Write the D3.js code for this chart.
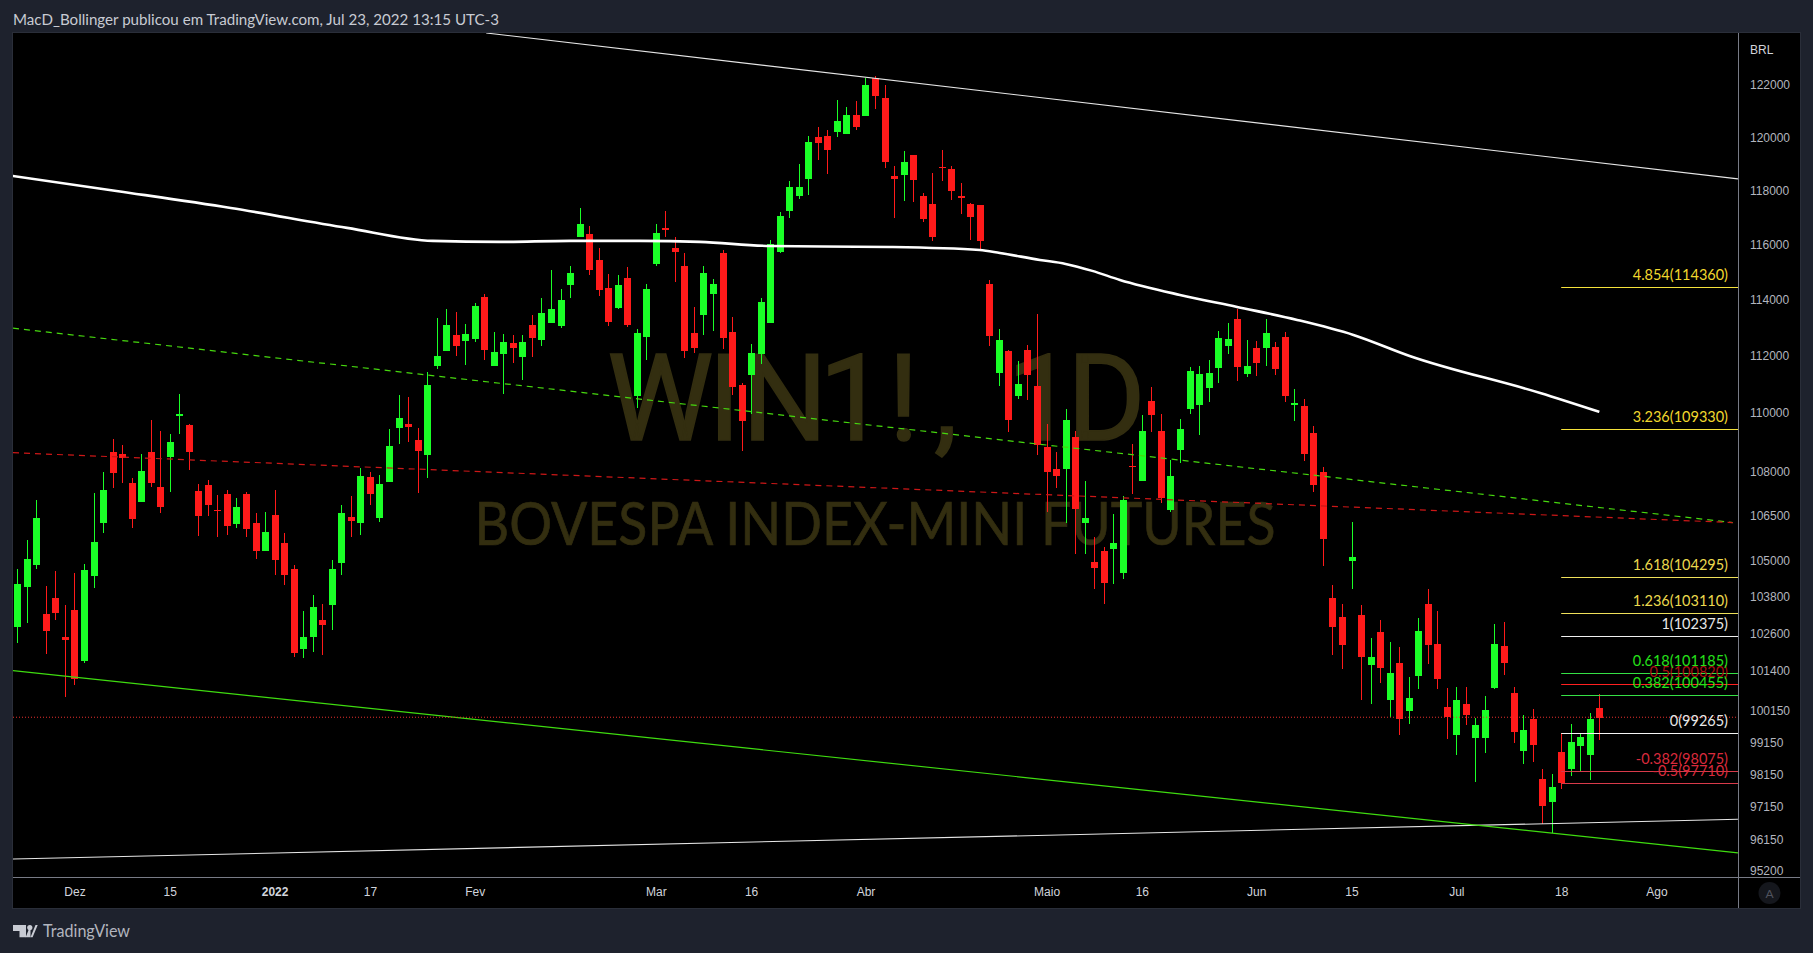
<!DOCTYPE html>
<html>
<head>
<meta charset="utf-8">
<title>WIN1!, 1D</title>
<script src="https://cdn.jsdelivr.net/npm/d3@7"></script>
<style>
    html, body { margin: 0; padding: 0; background: #1e222d; overflow: hidden; }
    svg { display: block; }
    text { font-family: "Lato", "Liberation Sans", sans-serif; }
    .axis text { font-family: "Liberation Sans", sans-serif; font-size: 12px; }
</style>
</head>
<body>
<svg id="chart" width="1813" height="953"></svg>
<script>
// daily candles, oldest first
const opens = [
    102825, 104130, 104855, 103245, 103765, 102500, 103375, 101725, 104490, 106255,
    108660, 108590, 107605, 106960, 108660, 107470, 108490, 109905, 109590, 107330,
    107535, 106690, 107230, 106220, 107230, 106255, 105315, 106525, 105585, 104725,
    102110, 102500, 103050, 103540, 104920, 106455, 106255, 107810, 106425, 107640,
    109490, 109625, 109075, 108555, 111650, 112180, 112750, 112535, 112605, 114105,
    111650, 112075, 112465, 111970, 113105, 112570, 113175, 113070, 114540, 116290,
    116400, 115450, 114435, 113710, 114795, 110595, 112680, 115305, 116620, 115885,
    115230, 112820, 113465, 114215, 115700, 112855, 110985, 111335, 112075, 113175,
    115740, 117245, 117800, 118440, 120020, 120055, 120210, 120130, 120855, 120815,
    122275, 121500, 118550, 118590, 119335, 117800, 117505, 118885, 118810, 117800,
    117505, 117470, 114580, 111405, 112180, 110595, 112215, 110950, 108830, 108080,
    108080, 109175, 106255, 104955, 105315, 105385, 104590, 108185, 107670, 110420,
    109385, 106690, 108725, 110145, 110285, 110880, 111580, 112355, 113320, 111370,
    112285, 112285, 112320, 112680, 110285, 110250, 109315, 107980, 103765, 103150,
    104985, 103215, 101595, 102660, 100480, 101660, 100135, 101245, 103570, 102270,
    100260, 99380, 100355, 99285, 99285, 100865, 102205, 100705, 98875, 99880,
    98010, 97295, 98845, 98320, 99035, 98750, 100230
]
const highs = [
    104720, 105685, 107025, 104165, 104655, 103540, 104590, 104890, 107265, 107980,
    109110, 108900, 107775, 108590, 109765, 109385, 109280, 110670, 109625, 107570,
    107705, 107195, 107365, 107095, 107300, 106590, 106625, 107365, 105920, 104855,
    103345, 103865, 103570, 105020, 106860, 107160, 108115, 107980, 107875, 109455,
    110630, 110560, 109490, 111440, 113355, 113675, 113570, 113140, 113890, 114215,
    112855, 112785, 112750, 112750, 113465, 114070, 115085, 114395, 115230, 117355,
    116695, 115885, 114940, 114905, 115195, 112965, 114580, 116770, 117245, 116290,
    115700, 113750, 115230, 114760, 115810, 113390, 111055, 112430, 114070, 116180,
    117210, 118365, 119000, 120055, 120400, 120285, 121425, 121160, 121385, 122275,
    122350, 122000, 118925, 119485, 119335, 117915, 118660, 119525, 118925, 118290,
    117540, 117470, 114725, 112965, 112215, 111830, 112395, 113500, 109625, 108660,
    110145, 109385, 107670, 105785, 105450, 106555, 107160, 108935, 109940, 110915,
    109975, 108385, 109800, 111615, 111650, 111865, 112890, 113175, 113675, 112570,
    112535, 113320, 112500, 112855, 110845, 110490, 109555, 108150, 104195, 103570,
    106290, 103540, 102465, 103050, 102335, 102175, 101215, 103115, 104065, 103345,
    100865, 100895, 100895, 99915, 100605, 102920, 102985, 100895, 100005, 100195,
    98320, 98165, 99440, 99725, 99410, 100070, 100670
]
const lows = [
    102305, 102955, 104725, 101950, 103050, 100575, 100960, 101660, 104095, 105920,
    107435, 107605, 106090, 106960, 107470, 106590, 107300, 109280, 108045, 105820,
    106490, 105785, 105855, 106090, 105785, 105055, 105315, 104525, 104195, 101855,
    101820, 102015, 101915, 102725, 104525, 105785, 105855, 106860, 106290, 107640,
    108935, 109005, 107265, 107775, 111545, 112180, 112005, 111685, 112500, 111865,
    111650, 110670, 111755, 111160, 111970, 112355, 113175, 113000, 114070, 116290,
    114905, 114145, 113070, 113675, 113035, 110180, 111865, 115230, 116290, 114650,
    111935, 112110, 112750, 112890, 112250, 110630, 108695, 109975, 111720, 113175,
    115700, 116990, 117690, 117840, 119150, 118625, 120020, 120130, 120285, 120815,
    121080, 118850, 116990, 117615, 117580, 116840, 116145, 118365, 117650, 117135,
    116180, 115810, 112355, 110950, 109350, 110490, 110455, 108555, 106625, 107435,
    106255, 105220, 105220, 104065, 103570, 104230, 104395, 107230, 107670, 109350,
    106925, 106625, 108285, 109975, 109245, 110390, 111055, 112075, 111125, 111265,
    111300, 111650, 111335, 110390, 109730, 108355, 107300, 104820, 101915, 101470,
    104065, 100480, 100355, 101020, 99945, 99380, 99725, 100830, 101630, 100830,
    99250, 98750, 99695, 97915, 98815, 100830, 101280, 99125, 98475, 98535,
    96625, 96350, 97700, 98100, 98255, 97980, 99220
]
const closes = [
    104230, 105055, 106425, 102695, 103280, 102400, 101150, 104690, 105620, 107365,
    107945, 108455, 106390, 108015, 107605, 106790, 109005, 109975, 108660, 106490,
    106860, 106655, 106155, 106790, 106055, 105315, 105955, 105020, 104525, 101980,
    102500, 103475, 102890, 104725, 106590, 106320, 107840, 107230, 107570, 108865,
    109835, 109525, 108695, 110985, 112005, 113105, 112355, 112785, 113785, 112215,
    112145, 112500, 112285, 112500, 112640, 113535, 113675, 114000, 114975, 116770,
    115085, 114360, 113215, 114540, 113105, 112820, 114395, 116435, 116550, 115740,
    112180, 112285, 114975, 114580, 112640, 110915, 109730, 112110, 113925, 116030,
    117065, 118140, 118140, 119830, 119790, 119525, 120625, 120855, 120400, 122000,
    121580, 119075, 118440, 119075, 118400, 116955, 116290, 118850, 117990, 117725,
    117025, 116145, 112715, 112570, 109765, 111020, 111335, 108900, 107980, 107840,
    109765, 106725, 106425, 104755, 104260, 105585, 107025, 108150, 109385, 109940,
    107095, 107840, 109455, 111475, 111370, 111405, 112640, 112605, 111615, 111650,
    111755, 112820, 111545, 110595, 110355, 108590, 107535, 105720, 102825, 102240,
    105120, 101855, 101855, 101500, 101340, 99880, 100540, 102695, 102240, 101150,
    99945, 100480, 100005, 99695, 100165, 102270, 101660, 99475, 99535, 99065,
    97175, 97760, 97885, 99160, 99315, 99880, 99915
]

// long moving average, read at a handful of bars
const maBars = [-0.5, 10.4, 22.4, 34.6, 43.6, 50.6, 58, 65.3, 71.6, 79, 91.5, 101, 103.1, 107.3, 110, 112.8, 115.7, 122, 128, 134.3, 140.2, 146.1, 159.8, 166]
const maPrices = [118550, 117989, 117357, 116622, 116143, 116106, 116143, 116143, 116106, 115958, 115920, 115811, 115702, 115448, 115303, 115050, 114723, 114180, 113748, 113284, 112749, 112003, 110700, 110042]

// trend lines: [bar, price] at each end
const upperWhiteLine = [[49.2, 124018], [180.55, 118438]]
const lowerWhiteLine = [[-0.45, 95561], [180.55, 96769]]
const lowerGreenLine = [[-0.45, 101416], [180.55, 95750]]
const greenDashLine = [[-0.45, 112988], [180, 106266]]
const redDashLine = [[-0.45, 108635], [180, 106266]]
const lastPrice = 99935

// fib extension levels
const fibPrices = [114459, 109454, 104450, 103269, 102532, 100980, 101332, 100630, 99432, 98247, 97876]
const fibLabels = ['4.854(114360)', '3.236(109330)', '1.618(104295)', '1.236(103110)', '1(102375)', '0.5(100820)', '0.618(101185)', '0.382(100455)', '0(99265)', '-0.382(98075)', '-0.5(97710)']
const fibLineColors = ['#f5e23b', '#f5e23b', '#efe05a', '#efe05a', '#f0f0f0', '#ff2020', '#35e045', '#35e045', '#f5f5f5', '#d83a4a', '#d83a4a']
const fibTextColors = ['#f2d82e', '#f2d82e', '#ecd94e', '#ecd94e', '#e8e8e8', '#a81212', '#25e01a', '#25e01a', '#e8e8e8', '#d92a3c', '#d92a3c']
const fibStartBar = 162.0

// axes
const priceTicks = [122000, 120000, 118000, 116000, 114000, 112000, 110000, 108000, 106500, 105000, 103800, 102600, 101400, 100150, 99150, 98150, 97150, 96150, 95200]
const timeTickBars = [6, 16, 27, 37, 48, 67, 77, 89, 108, 118, 130, 140, 151, 162, 172]
const timeTickLabels = ['Dez', '15', '2022', '17', 'Fev', 'Mar', '16', 'Abr', 'Maio', '16', 'Jun', '15', 'Jul', '18', 'Ago']


function main() {
    const svg = d3.select('#chart')

    const plot = { left: 13, right: 1738, top: 33, bottom: 877, outerRight: 1800, outerBottom: 908 }

    const x = d3.scaleLinear().domain([0, 166]).range([17.3, 1599.3])
    const y = d3.scaleLog().domain([95022, 124018]).range([plot.bottom, plot.top])

    // black panel behind everything
    svg.append('rect')
        .attr('x', plot.left - 0.5).attr('y', plot.top - 0.5)
        .attr('width', plot.outerRight - plot.left + 1).attr('height', plot.outerBottom - plot.top + 1)
        .attr('fill', '#000').attr('stroke', '#2a2e39')

    svg.append('clipPath').attr('id', 'plotclip').append('rect')
        .attr('x', plot.left).attr('y', plot.top)
        .attr('width', plot.right - plot.left).attr('height', plot.bottom - plot.top)

    // symbol watermark, glyphs placed one by one to follow the wide spacing
    const wm = svg.append('g').attr('fill', '#332e10').attr('stroke', '#332e10')
    wm.append('text')
        .attr('x', '607 708 742 819 888 934 980 1007 1067')
        .attr('y', 440)
        .attr('font-size', 120)
        .attr('stroke-width', 1.5)
        .style('font-family', 'Roboto, sans-serif')
        .text('WIN1!, 1D')
    wm.append('text')
        .attr('x', 875).attr('y', 545)
        .attr('text-anchor', 'middle')
        .attr('font-size', 60)
        .attr('stroke-width', 0.7)
        .attr('textLength', 801).attr('lengthAdjust', 'spacingAndGlyphs')
        .text('BOVESPA INDEX-MINI FUTURES')

    const g = svg.append('g').attr('clip-path', 'url(#plotclip)')

    // candles
    const bars = d3.range(opens.length)
    const color = i => closes[i] >= opens[i] ? '#1aff27' : '#ff1a1a'
    const candles = g.append('g').attr('shape-rendering', 'crispEdges')

    candles.selectAll('.wick').data(bars).enter()
        .append('rect')
        .attr('class', 'wick')
        .attr('x', i => Math.round(x(i)))
        .attr('width', 1)
        .attr('y', i => y(highs[i]))
        .attr('height', i => y(lows[i]) - y(highs[i]))
        .attr('fill', color)

    candles.selectAll('.body').data(bars).enter()
        .append('rect')
        .attr('class', 'body')
        .attr('x', i => Math.round(x(i)) - 3)
        .attr('width', 7)
        .attr('y', i => y(Math.max(opens[i], closes[i])))
        .attr('height', i => Math.max(1, Math.abs(y(opens[i]) - y(closes[i]))))
        .attr('fill', color)

    // trend lines
    const seg = d3.line().x(d => x(d[0])).y(d => y(d[1]))

    function trend(pts, stroke, width, dash) {
        g.append('path')
            .attr('d', seg(pts))
            .attr('fill', 'none')
            .attr('stroke', stroke)
            .attr('stroke-width', width)
            .attr('stroke-dasharray', dash)
    }

    trend(upperWhiteLine, '#e6e6e6', 1.1)
    trend(lowerWhiteLine, '#e6e6e6', 1.1)
    trend(lowerGreenLine, '#3fdc10', 1.2)
    trend(greenDashLine, '#46d80e', 1.2, '6,5')
    trend(redDashLine, '#cc1717', 1.2, '6,5')

    // moving average
    g.append('path')
        .attr('d', d3.line().x((d, i) => x(maBars[i])).y(d => y(d)).curve(d3.curveMonotoneX)(maPrices))
        .attr('fill', 'none')
        .attr('stroke', '#fff')
        .attr('stroke-width', 2.6)

    // last price line
    g.append('line')
        .attr('x1', plot.left).attr('x2', plot.right)
        .attr('y1', y(lastPrice)).attr('y2', y(lastPrice))
        .attr('stroke', '#e8302e').attr('stroke-dasharray', '1,2')

    // fib levels
    const fib = svg.append('g')
    fib.selectAll('line').data(fibPrices).enter()
        .append('line')
        .attr('x1', x(fibStartBar)).attr('x2', plot.right)
        .attr('y1', d => Math.round(y(d)) + 0.5).attr('y2', d => Math.round(y(d)) + 0.5)
        .attr('stroke', (d, i) => fibLineColors[i])
    fib.selectAll('text').data(fibPrices).enter()
        .append('text')
        .attr('x', 1728)
        .attr('y', d => y(d) - 7)
        .attr('text-anchor', 'end')
        .attr('font-size', 14.5)
        .attr('fill', (d, i) => fibTextColors[i])
        .text((d, i) => fibLabels[i])

    // price axis
    const yAxis = svg.append('g')
        .attr('class', 'axis')
        .attr('transform', `translate(${plot.right},0)`)
        .call(d3.axisRight(y).tickValues(priceTicks).tickFormat(d3.format('d')).tickSize(0).tickPadding(12))
    yAxis.selectAll('text').attr('fill', '#b2b5be')
    yAxis.select('.domain').attr('stroke', '#787b86')

    // time axis
    const xAxis = svg.append('g')
        .attr('class', 'axis')
        .attr('transform', `translate(0,${plot.bottom})`)
        .call(d3.axisBottom(x).tickValues(timeTickBars).tickFormat((d, i) => timeTickLabels[i]).tickSize(0).tickPadding(10))
    xAxis.select('.domain').remove()
    xAxis.selectAll('text')
        .attr('fill', '#d1d4dc')
        .attr('font-weight', (d, i) => timeTickLabels[i] == '2022' ? 'bold' : 'normal')

    // frame lines of the axes
    svg.append('line').attr('x1', plot.left).attr('x2', plot.outerRight).attr('y1', plot.bottom + 0.5).attr('y2', plot.bottom + 0.5).attr('stroke', '#787b86')
    svg.append('line').attr('x1', plot.right + 0.5).attr('x2', plot.right + 0.5).attr('y1', plot.top).attr('y2', plot.outerBottom).attr('stroke', '#787b86')

    svg.append('text')
        .attr('x', 1750).attr('y', 54)
        .attr('font-size', 12).style('font-family', '"Liberation Sans", sans-serif')
        .attr('fill', '#d1d4dc')
        .text('BRL')

    // auto scale button
    svg.append('circle').attr('cx', 1769.5).attr('cy', 893).attr('r', 11).attr('fill', '#15171d')
    svg.append('text')
        .attr('x', 1769.5).attr('y', 897.5).attr('text-anchor', 'middle')
        .attr('font-size', 12).attr('fill', '#50535e')
        .text('A')

    // header and footer
    svg.append('text')
        .attr('x', 13).attr('y', 25)
        .attr('font-size', 14.5).attr('fill', '#c8cbd3')
        .attr('textLength', 486).attr('lengthAdjust', 'spacingAndGlyphs')
        .text('MacD_Bollinger publicou em TradingView.com, Jul 23, 2022 13:15 UTC-3')

    const logo = svg.append('g').attr('fill', '#c8cbd3')
    logo.append('path').attr('d', 'M13 925H26V937.3H19.5V931H13Z')
    logo.append('circle').attr('cx', 29.8).attr('cy', 927.6).attr('r', 2.6)
    logo.append('path').attr('d', 'M30.5 937.3L35.5 925H37.7L32.6 937.3H25.7L30.5 925Z')

    svg.append('text')
        .attr('x', 43).attr('y', 937)
        .attr('font-size', 17).attr('fill', '#b2b5be')
        .attr('textLength', 87).attr('lengthAdjust', 'spacingAndGlyphs')
        .text('TradingView')
}

main()
</script>
</body>
</html>
